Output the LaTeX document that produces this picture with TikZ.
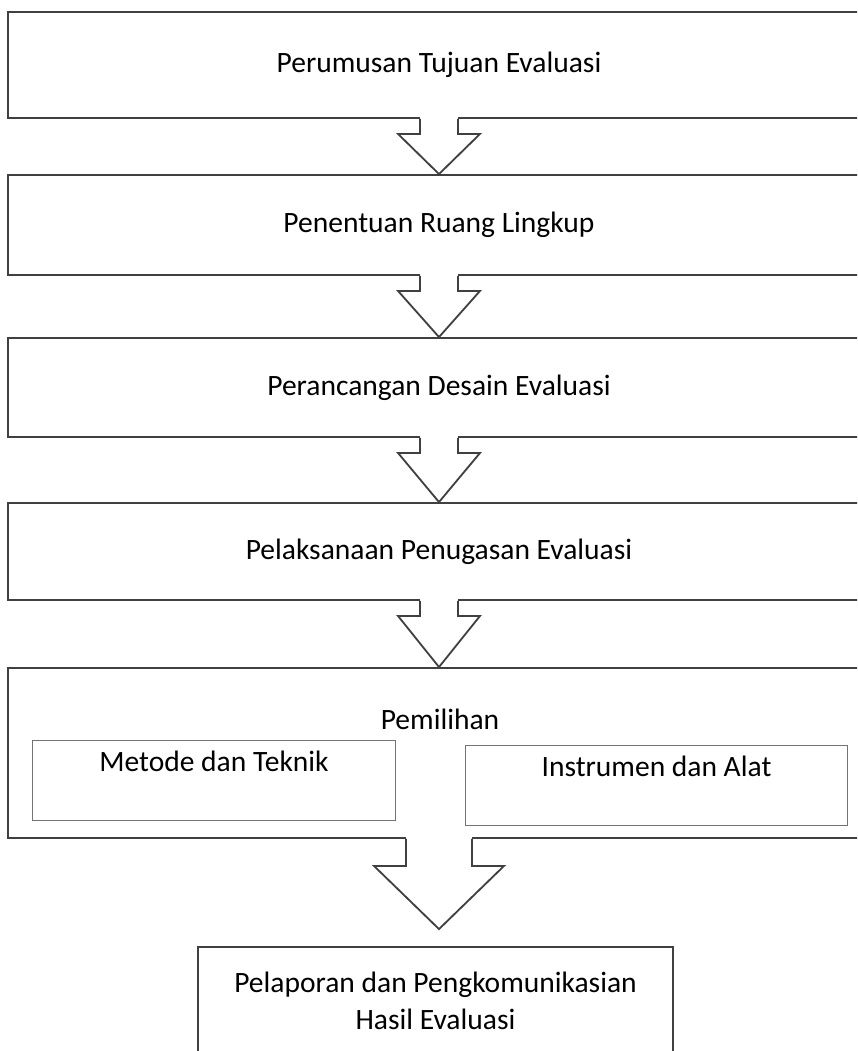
\documentclass[tikz,border=0pt]{standalone}
\usepackage{fontspec}
\setmainfont{Carlito}
\usetikzlibrary{calc, positioning}
\tikzset{%
	stage/.style={draw=black!75, line width=1.3pt, rectangle, minimum width=21.55cm,
		inner sep=0mm, font=\fontsize{21}{26}\selectfont},
	choice/.style={draw=black!55, line width=0.7pt, rectangle, minimum height=2cm,
		inner sep=0mm},
	lbl/.style={font=\fontsize{21}{26}\selectfont, inner sep=0mm},
	report/.style={draw=black!75, line width=1.3pt, rectangle, minimum width=11.875cm,
		minimum height=2.7cm, align=center, inner sep=0mm, font=\fontsize{21}{26.5}\selectfont},
	arrowline/.style={draw=black!75, line width=1.3pt, line join=miter}
}
% block arrow: from, to, shaft half width, head half width, shaft length, gap
\newcommand{\flowarrow}[6]{%
	\fill[white] ($(#1.south)+(-#3,-3)$) rectangle ($(#1.south)+(#3,#5)$);
	\draw[arrowline] ($(#1.south)+(-#3,0)$) -- ++(0,#5) -- ++(#3-#4,0)
		-- ($(#1.south |- #2.north)+(0,-#6)$)
		-- ($(#1.south)+(#4,#5)$) -- ($(#1.south)+(#3,#5)$) -- ($(#1.south)+(#3,0)$);
}

\begin{document}
\begin{tikzpicture}[x=0.025cm, y=-0.025cm]
	\useasboundingbox (0,0) rectangle (857,1051);
	\clip (0,0) rectangle (857,1051);

	\node[stage, minimum height=2.65cm]  (tujuan)   at (439,65)    {Perumusan Tujuan Evaluasi};
	\node[stage, minimum height=2.5cm]   (ruang)    at (439,225)   {Penentuan Ruang Lingkup};
	\node[stage, minimum height=2.475cm] (desain)   at (439,387.5) {Perancangan Desain Evaluasi};
	\node[stage, minimum height=2.425cm] (tugas)    at (439,551.5) {Pelaksanaan Penugasan Evaluasi};
	\node[stage, minimum height=4.25cm]  (pilih)    at (439,753)   {};
	\node[lbl]                           (pilihlbl) at (440,719)   {Pemilihan};

	\node[choice, minimum width=9.05cm]  (metode) at (214,780) {};
	\node[lbl, below=0.28cm of metode.north] (metodelbl) {Metode dan Teknik};
	\node[choice, minimum width=9.525cm] (alat)   at (656.5,785.5) {};
	\node[lbl, below=0.28cm of alat.north]   (alatlbl)   {Instrumen dan Alat};

	\node[report] (lapor) at (435.5,1001) {Pelaporan dan Pengkomunikasian\\Hasil Evaluasi};

	\flowarrow{tujuan}{ruang}{19}{41}{15}{0}
	\flowarrow{ruang}{desain}{19}{41}{15}{0}
	\flowarrow{desain}{tugas}{19}{41}{15}{0}
	\flowarrow{tugas}{pilih}{19}{41}{15}{0}
	\flowarrow{pilih}{lapor}{33}{65}{27}{17}

\end{tikzpicture}
\end{document}
